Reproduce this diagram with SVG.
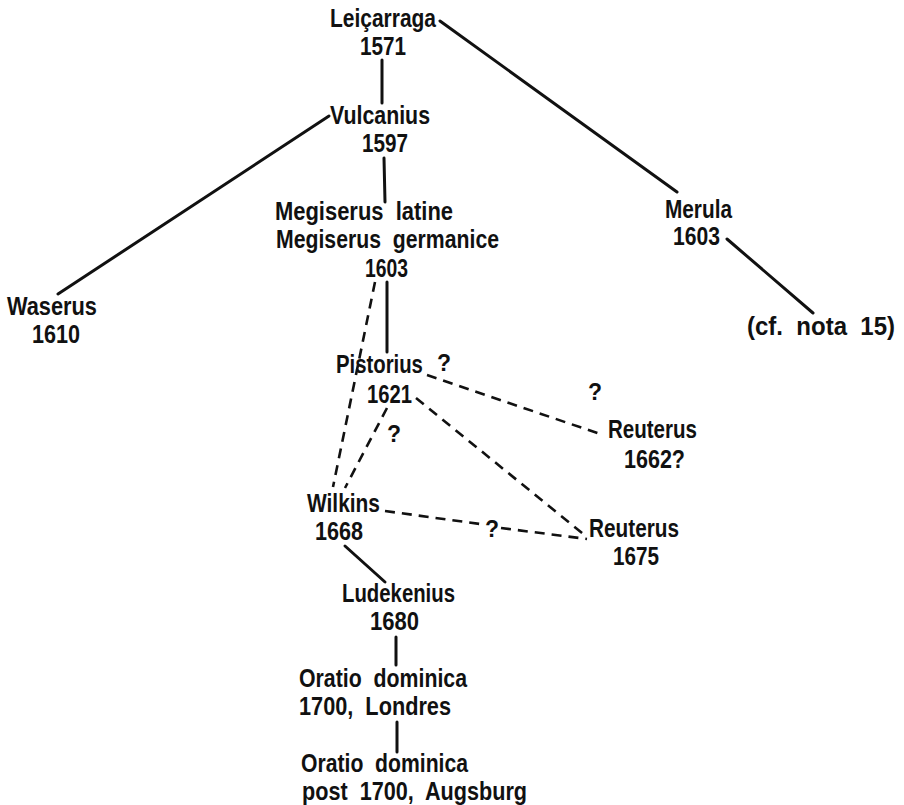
<svg xmlns="http://www.w3.org/2000/svg" width="904" height="805" viewBox="0 0 904 805">
<style>
text{font-family:"Liberation Sans",Arial,sans-serif;font-weight:bold;font-size:25px;fill:#111;white-space:pre}
.q{font-size:23px}
.s{stroke:#111;stroke-width:3;fill:none;stroke-linecap:round}
.d{stroke:#111;stroke-width:2.6;fill:none;stroke-dasharray:10 7}
</style>
<rect width="904" height="805" fill="#fff"/>
<g id="connectors">
<line class="s" x1="440" y1="21" x2="677" y2="192"/>
<line class="s" x1="382" y1="60" x2="382" y2="103"/>
<line class="s" x1="329" y1="116" x2="58" y2="294"/>
<line class="s" x1="384" y1="158" x2="385" y2="202"/>
<line class="s" x1="727" y1="239" x2="813" y2="313"/>
<line class="s" x1="387" y1="282" x2="387" y2="352"/>
<line class="s" x1="345" y1="546" x2="385" y2="582"/>
<line class="s" x1="396" y1="637" x2="396" y2="665"/>
<line class="s" x1="397" y1="722" x2="397" y2="752"/>
<line class="d" x1="375" y1="282" x2="333" y2="487"/>
<line class="d" x1="387" y1="408" x2="345" y2="488"/>
<line class="d" x1="427" y1="375" x2="603" y2="435"/>
<line class="d" x1="416" y1="398" x2="587" y2="537"/>
<line class="d" x1="385" y1="511" x2="480" y2="524"/>
<line class="d" x1="501" y1="528" x2="587" y2="539"/>
</g>
<g id="leicarraga"><text x="330" y="27" textLength="106" lengthAdjust="spacingAndGlyphs">Leiçarraga</text><text x="360" y="55" textLength="46" lengthAdjust="spacingAndGlyphs">1571</text></g>
<g id="vulcanius"><text x="330" y="124" textLength="100" lengthAdjust="spacingAndGlyphs">Vulcanius</text><text x="362" y="152" textLength="46" lengthAdjust="spacingAndGlyphs">1597</text></g>
<g id="megiserus"><text x="275" y="220" textLength="178" lengthAdjust="spacingAndGlyphs">Megiserus  latine</text><text x="276" y="248" textLength="223" lengthAdjust="spacingAndGlyphs">Megiserus  germanice</text><text x="365" y="277" textLength="43" lengthAdjust="spacingAndGlyphs">1603</text></g>
<g id="waserus"><text x="7" y="315" textLength="90" lengthAdjust="spacingAndGlyphs">Waserus</text><text x="32" y="343" textLength="48" lengthAdjust="spacingAndGlyphs">1610</text></g>
<g id="merula"><text x="665" y="218" textLength="67" lengthAdjust="spacingAndGlyphs">Merula</text><text x="673" y="245" textLength="47" lengthAdjust="spacingAndGlyphs">1603</text></g>
<g id="cfnota"><text x="747" y="335" textLength="148" lengthAdjust="spacingAndGlyphs">(cf.  nota  15)</text></g>
<g id="pistorius"><text transform="translate(336 373) scale(0.813 1)">Pistorius</text><text class="q" x="437" y="371">?</text><text x="367" y="403" textLength="45" lengthAdjust="spacingAndGlyphs">1621</text></g>
<g id="reuterus1662"><text x="608" y="438" textLength="89" lengthAdjust="spacingAndGlyphs">Reuterus</text><text x="624" y="468" textLength="61" lengthAdjust="spacingAndGlyphs">1662?</text></g>
<g id="wilkins"><text x="307" y="512" textLength="73" lengthAdjust="spacingAndGlyphs">Wilkins</text><text x="315" y="540" textLength="48" lengthAdjust="spacingAndGlyphs">1668</text></g>
<g id="reuterus1675"><text x="589" y="537" textLength="90" lengthAdjust="spacingAndGlyphs">Reuterus</text><text x="613" y="565" textLength="46" lengthAdjust="spacingAndGlyphs">1675</text></g>
<g id="questions"><text class="q" x="588" y="400">?</text><text class="q" x="387" y="442">?</text><text class="q" x="485" y="537">?</text></g>
<g id="ludekenius"><text x="342" y="602" textLength="113" lengthAdjust="spacingAndGlyphs">Ludekenius</text><text x="370" y="630" textLength="49" lengthAdjust="spacingAndGlyphs">1680</text></g>
<g id="oratio1700"><text x="299" y="687" textLength="168" lengthAdjust="spacingAndGlyphs">Oratio  dominica</text><text x="299" y="715" textLength="152" lengthAdjust="spacingAndGlyphs">1700,  Londres</text></g>
<g id="oratiopost"><text x="301" y="772" textLength="167" lengthAdjust="spacingAndGlyphs">Oratio  dominica</text><text x="302" y="800" textLength="225" lengthAdjust="spacingAndGlyphs">post  1700,  Augsburg</text></g>
</svg>
